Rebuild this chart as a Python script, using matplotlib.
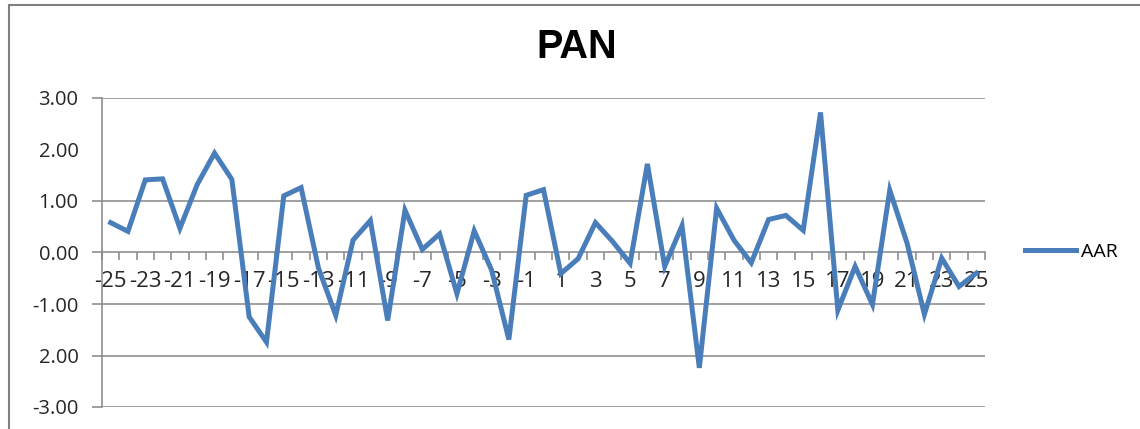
import matplotlib
matplotlib.use('Agg')
import matplotlib.pyplot as plt
import matplotlib.patches as patches
import numpy as np

# event days and average abnormal returns
days = list(range(-25, 26))
aar = [0.58, 0.41, 1.41, 1.43, 0.47, 1.32, 1.93, 1.42, -1.25, -1.74,
       1.10, 1.26, -0.30, -1.22, 0.24, 0.62, -1.32, 0.82, 0.06, 0.36,
       -0.80, 0.42, -0.34, -1.69, 1.11, 1.22, -0.41, -0.12, 0.58, 0.21,
       -0.21, 1.72, -0.27, 0.52, -2.24, 0.86, 0.24, -0.20, 0.64, 0.72,
       0.43, 2.72, -1.12, -0.27, -1.01, 1.21, 0.18, -1.20, -0.11, -0.66,
       -0.40]
y_ticks = [-3, -2, -1, 0, 1, 2, 3]
y_labels = ['-3.00', '2.00', '-1.00', '0.00', '1.00', '2.00', '3.00']
grid_levels = [-3, -2, -1, 1, 3]
x_label_days = list(range(-25, 26, 2))

blue = '#4a7ebb'
grey = '#868686'
plt.rcParams['font.family'] = ['Open Sans', 'DejaVu Sans']

fig = plt.figure(figsize=(11.4, 4.29), dpi=100)
ax = fig.add_axes([102/1140, 22/429, 883/1140, 309/429])

# gridlines
for g in grid_levels:
    ax.axhline(g, color=grey, lw=1.1, zorder=1)

line, = ax.plot(days, aar, color=blue, lw=3.6, solid_joinstyle='miter',
                label='AAR', zorder=3)

ax.set_xlim(-25.5, 25.5)
ax.set_ylim(-3, 3)

for s in ['top', 'right']:
    ax.spines[s].set_visible(False)
ax.spines['left'].set_color(grey)
ax.spines['left'].set_linewidth(1.1)
ax.spines['bottom'].set_position(('data', 0))
ax.spines['bottom'].set_color(grey)
ax.spines['bottom'].set_linewidth(1.1)

# y axis
ax.set_yticks(y_ticks)
ax.set_yticklabels(y_labels)
ax.tick_params(axis='y', direction='out', length=7, width=1.1, color=grey,
               pad=10, labelsize=14.5, labelcolor='#262626')
for t, v in zip(ax.yaxis.get_major_ticks(), y_ticks):
    if v not in grid_levels and v != 0:
        t.tick1line.set_visible(False)

# x axis: tick marks between categories, labels on every other day
ax.set_xticks(np.arange(-25.5, 26, 1.0))
ax.xaxis.set_major_formatter(plt.NullFormatter())
ax.tick_params(axis='x', which='major', direction='out', length=6,
               width=1.1, color=grey)
ax.set_xticks(x_label_days, minor=True)
ax.set_xticklabels([str(d) for d in x_label_days], minor=True)
ax.tick_params(axis='x', which='minor', length=0, pad=13, labelsize=16,
               labelcolor='#262626')

fig.text(577/1140, 1 - 47/429, 'PAN', ha='center', va='center',
         fontsize=28.5, fontweight='bold', color='black',
         family=['Liberation Sans', 'DejaVu Sans'])

fig.legend(handles=[line], loc='center left',
           bbox_to_anchor=(1025/1140, 1 - 252/429), frameon=False,
           fontsize=14, handlelength=2.6, handletextpad=0.3,
           borderpad=0, borderaxespad=0)

# chart border
border = patches.Rectangle((8.5/1140, -0.1), 1.2, 1 - 5.5/429 + 0.1,
                           transform=fig.transFigure, fill=False,
                           edgecolor='#808080', lw=1.5, clip_on=False)
fig.patches.append(border)

fig.savefig('out.png', dpi=100)
